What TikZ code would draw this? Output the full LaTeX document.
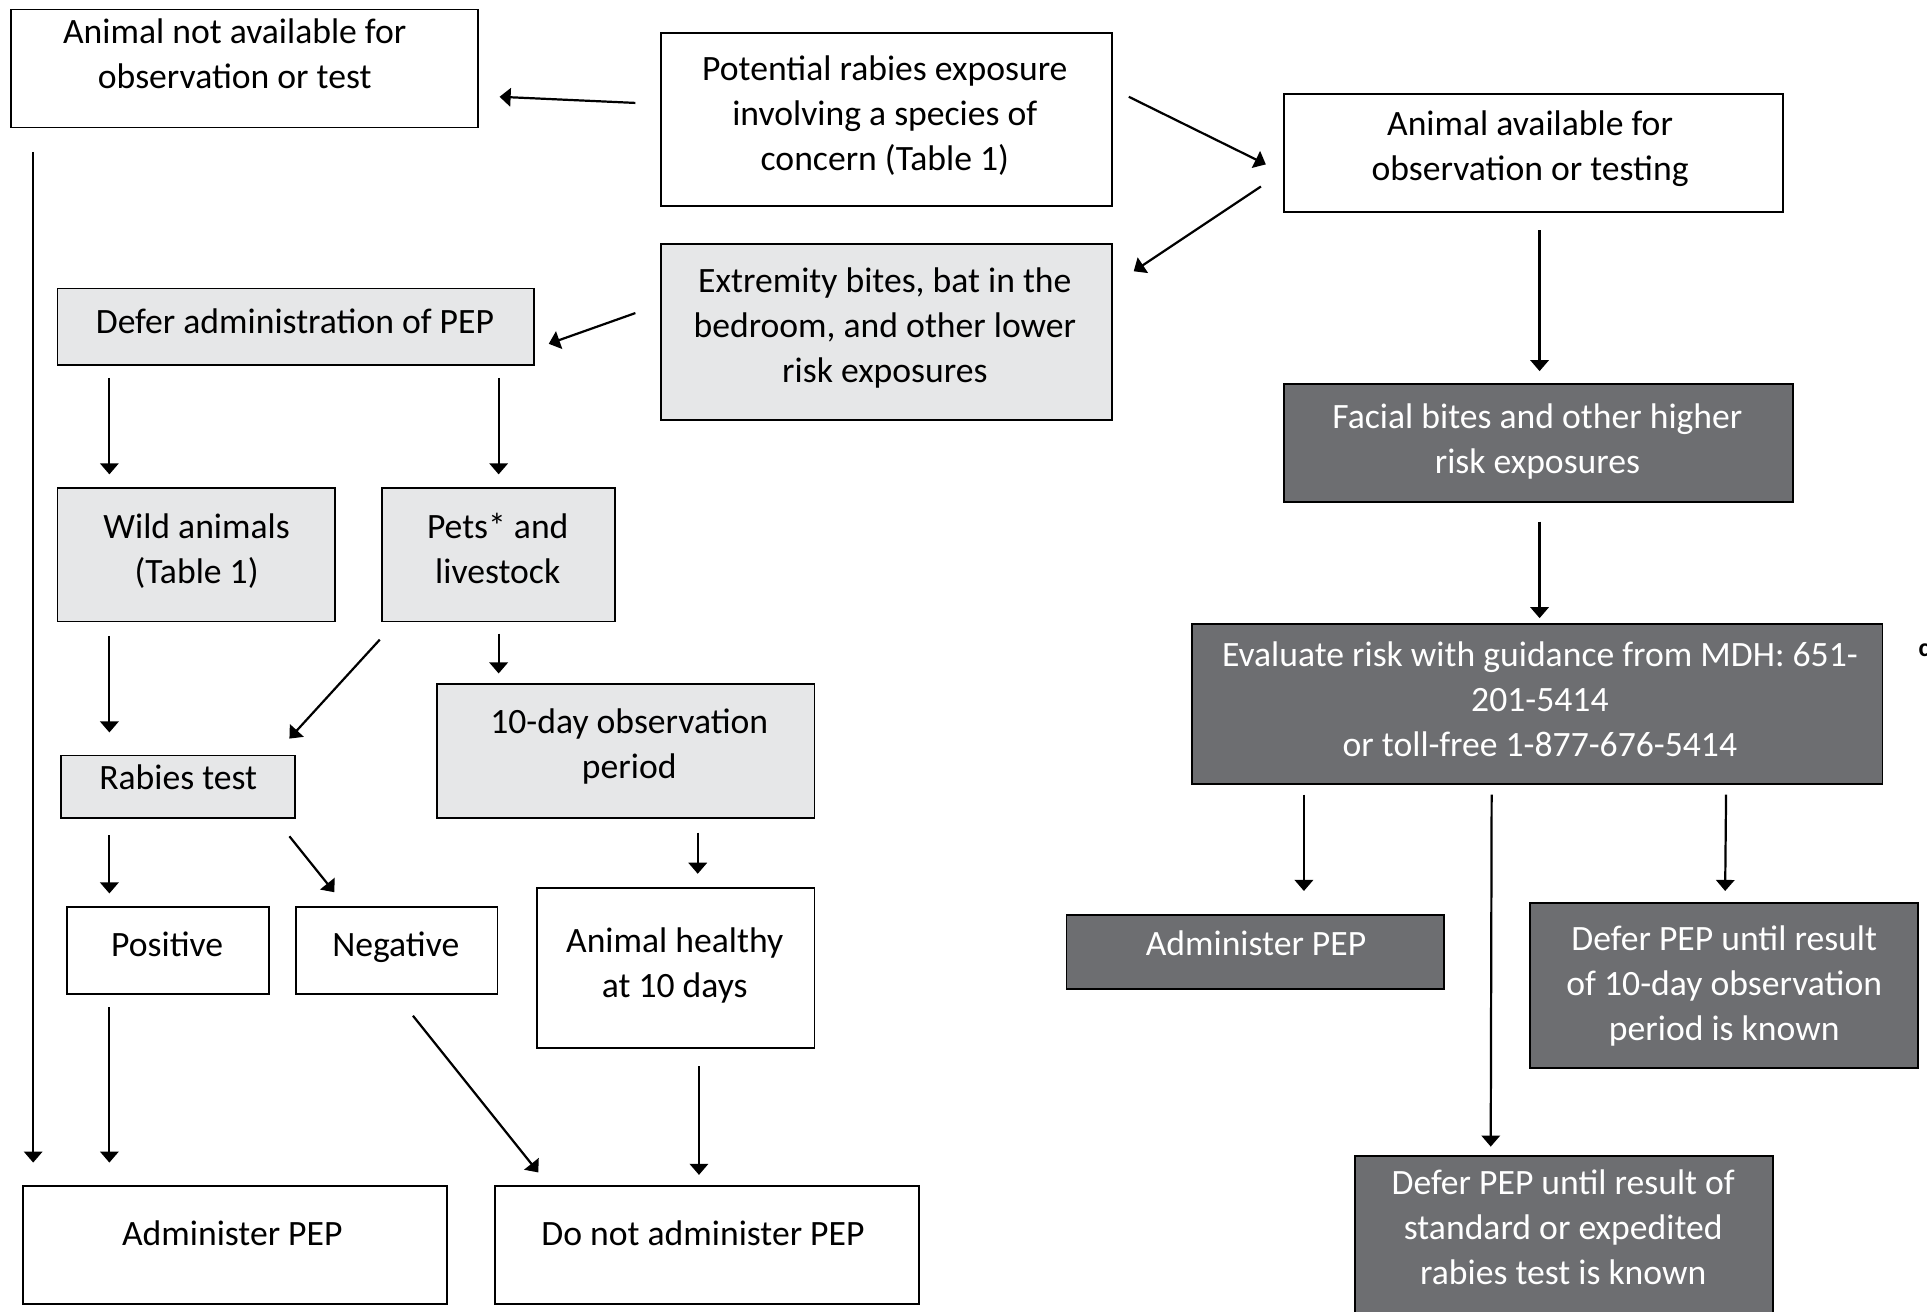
\documentclass[tikz,border=0pt]{standalone}
\usepackage{fontspec}
\setmainfont{Carlito}
\usetikzlibrary{arrows.meta}
\definecolor{lightbox}{HTML}{E6E7E8}
\definecolor{darkbox}{HTML}{6D6E71}
\begin{document}
\begin{tikzpicture}[x=1pt,y=-1pt,
  box/.style={draw=black,line width=1.5pt,rectangle,anchor=north west,inner sep=0pt},
  wbox/.style={box,fill=white},
  lbox/.style={box,fill=lightbox},
  dbox/.style={box,fill=darkbox},
  txt/.style={align=center,inner sep=0pt,yshift=-3pt,font=\fontsize{29}{36.7}\selectfont},
  wtxt/.style={txt,text=white},
  arr/.style={line width=1.8pt,-{Triangle[width=15pt,length=9pt]}}]
\useasboundingbox (0,0) rectangle (1568,1067);
% boxes
\node[wbox,minimum width=380pt,minimum height=96pt] (notavail) at (8,7) {};
\node[wbox,minimum width=367pt,minimum height=141pt] (potential) at (537,26) {};
\node[wbox,minimum width=406pt,minimum height=96pt] (available) at (1044,76) {};
\node[lbox,minimum width=367pt,minimum height=143pt] (extremity) at (537,198) {};
\node[lbox,minimum width=388pt,minimum height=62pt] (defer) at (46,234) {};
\node[dbox,minimum width=414pt,minimum height=96pt] (facial) at (1044,312) {};
\node[lbox,minimum width=226pt,minimum height=109pt] (wild) at (46,396) {};
\node[lbox,minimum width=190pt,minimum height=109pt] (pets) at (310,396) {};
\node[lbox,minimum width=190pt,minimum height=51pt] (rabiestest) at (49,614) {};
\node[lbox,minimum width=307pt,minimum height=109pt] (tenday) at (355,556) {};
\node[wbox,minimum width=164pt,minimum height=71pt] (positive) at (54,737) {};
\node[wbox,minimum width=164pt,minimum height=71pt] (negative) at (240,737) {};
\node[wbox,minimum width=226pt,minimum height=130pt] (healthy) at (436,722) {};
\node[wbox,minimum width=345pt,minimum height=96pt] (adminL) at (18,964) {};
\node[wbox,minimum width=345pt,minimum height=96pt] (donot) at (402,964) {};
\node[dbox,minimum width=562pt,minimum height=130pt] (evaluate) at (969,507) {};
\node[dbox,minimum width=307pt,minimum height=60pt] (adminR) at (867,744) {};
\node[dbox,minimum width=316pt,minimum height=134pt] (deferobs) at (1244,734) {};
\node[dbox,minimum width=340pt,minimum height=145pt] (defertest) at (1102,940) {};
% texts
\node[txt] (t-notavail) at (191,43.5) {\strut Animal not available for\\observation or test\strut};
\node[txt] (t-potential) at (720,92) {\strut Potential rabies exposure\\involving a species of\\concern (Table 1)\strut};
\node[txt] (t-available) at (1245,118.5) {\strut Animal available for\\observation or testing\strut};
\node[txt] (t-extremity) at (720,264.5) {\strut Extremity bites, bat in the\\bedroom, and other lower\\risk exposures\strut};
\node[txt] (t-defer) at (240,261) {\strut Defer administration of PEP};
\node[wtxt] (t-facial) at (1251,356.5) {\strut Facial bites and other higher\\risk exposures\strut};
\node[txt] (t-wild) at (160,446.5) {\strut Wild animals\\(Table 1)\strut};
\node[txt] (t-pets) at (405,446.5) {\strut Pets* and\\livestock\strut};
\node[txt] (t-rabiestest) at (145,632) {\strut Rabies test};
\node[txt] (t-tenday) at (512,605) {\strut 10-day observation\\period\strut};
\node[txt] (t-positive) at (136,768) {\strut Positive};
\node[txt] (t-negative) at (322,768) {\strut Negative};
\node[txt] (t-healthy) at (549,783) {\strut Animal healthy\\at 10 days\strut};
\node[txt] (t-adminL) at (189,1003) {\strut Administer PEP};
\node[txt] (t-donot) at (572,1003) {\strut Do not administer PEP};
\node[wtxt] (t-evaluate) at (1253,568.5) {\strut Evaluate risk with guidance from MDH: 651-\\201-5414\\or toll-free 1-877-676-5414\strut};
\node[wtxt] (t-adminR) at (1022,767) {\strut Administer PEP};
\node[wtxt] (t-deferobs) at (1403,800) {\strut Defer PEP until result\\of 10-day observation\\period is known\strut};
\node[wtxt] (t-defertest) at (1272,998) {\strut Defer PEP until result of\\standard or expedited\\rabies test is known\strut};
\node[anchor=west,inner sep=0pt,font=\fontsize{21}{24}\selectfont\bfseries] (edgemark) at (1561,529) {c};
% arrows
\draw[arr] ([xshift=-20pt,yshift=13.5pt]potential.west) -- ([xshift=17pt,yshift=-23pt]notavail.east);
\draw[arr] ([xshift=13pt,yshift=18.5pt]potential.east) -- ([xshift=-14pt,yshift=-9pt]available.west);
\draw[arr] ([xshift=-18pt,yshift=-27pt]available.west) -- ([xshift=17pt,yshift=49.5pt]extremity.east);
\draw[arr] ([xshift=-20pt,yshift=15.5pt]extremity.west) -- ([xshift=11pt,yshift=-14pt]defer.east);
\draw[arr] ([xshift=19pt,yshift=-19pt]notavail.south west) -- ([xshift=9pt,yshift=18pt]adminL.north west);
\draw[arr] ([xshift=43pt,yshift=-10pt]defer.south west) -- ([xshift=43pt,yshift=10pt]wild.north west);
\draw[arr] ([xshift=165pt,yshift=-10pt]defer.south) -- ([yshift=10pt]pets.north);
\draw[arr] ([xshift=43pt,yshift=-11pt]wild.south west) -- ([xshift=40pt,yshift=18pt]rabiestest.north west);
\draw[arr] ([xshift=-1pt,yshift=-14pt]pets.south west) -- ([xshift=-5pt,yshift=13pt]rabiestest.north east);
\draw[arr] ([yshift=-9pt]pets.south) -- ([xshift=-103.5pt,yshift=8pt]tenday.north);
\draw[arr] ([xshift=40pt,yshift=-13pt]rabiestest.south west) -- ([xshift=35pt,yshift=10pt]positive.north west);
\draw[arr] ([xshift=-5pt,yshift=-14pt]rabiestest.south east) -- ([xshift=32pt,yshift=11pt]negative.north west);
\draw[arr] ([xshift=58.5pt,yshift=-11pt]tenday.south) -- ([xshift=18pt,yshift=11pt]healthy.north);
\draw[arr] ([xshift=35pt,yshift=-10pt]positive.south west) -- ([xshift=71pt,yshift=18pt]adminL.north west);
\draw[arr] ([xshift=96pt,yshift=-17pt]negative.south west) -- ([xshift=36pt,yshift=10pt]donot.north west);
\draw[arr] ([xshift=19pt,yshift=-14pt]healthy.south) -- ([xshift=-6.5pt,yshift=8pt]donot.north);
\draw[arr] ([xshift=5pt,yshift=-14pt]available.south) -- ([xshift=1pt,yshift=10pt]facial.north);
\draw[arr] ([xshift=1pt,yshift=-15pt]facial.south) -- ([xshift=2pt,yshift=4pt]evaluate.north);
\draw[arr] ([xshift=92pt,yshift=-8pt]evaluate.south west) -- ([xshift=194pt,yshift=19pt]adminR.north west);
\draw[arr] ([xshift=-37pt,yshift=-8pt]evaluate.south) -- ([xshift=111pt,yshift=7pt]defertest.north west);
\draw[arr] ([xshift=-128pt,yshift=-8pt]evaluate.south east) -- ([xshift=1pt,yshift=9pt]deferobs.north);
\end{tikzpicture}
\end{document}
